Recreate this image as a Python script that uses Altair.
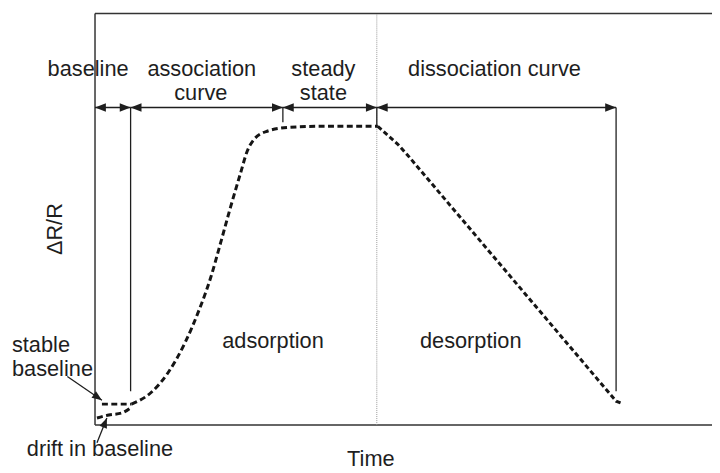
import math
import altair as alt
import pandas as pd

# ---- data (schematic, in plot units: x = time, y = dR/R) ----
X_MAX = 624
Y_MAX = 416

drift_x = [2, 14, 27, 37]
drift_y = [7, 10, 12, 18]

stable_x = [7, 37]
stable_y = [21, 21]

assoc_x = [37, 57, 74, 91, 104, 117, 127, 137, 147, 154, 161, 174, 197, 230, 286]
assoc_y = [21, 33, 53, 83, 113, 149, 184, 220, 254, 277, 289, 297, 301, 302, 302]

dissoc_x = [286, 296, 306, 316, 527, 532]
dissoc_y = [302, 293, 284, 273, 24, 22]

phase_start = [0, 36, 190, 285]
phase_end = [36, 190, 285, 527]
phase_y = 321

marker_x = [36, 190, 285, 527]
marker_y1 = [34, 306, 302, 34]

divider_x = 285

row1_text = ["baseline", "association", "steady", "dissociation curve"]
row1_x = [-7, 108, 231, 404]
row1_y = 353
row2_text = ["curve", "state"]
row2_x = [107, 231]
row2_y = 329

mid_text = ["adsorption", "desorption"]
mid_x = [180, 380]
mid_y = 78

left_text = ["stable", "baseline", "drift in baseline"]
left_x = [-84, -84, -69]
left_y = [74, 49, -31]

ann_tail_x = [-28, 2]
ann_tail_y = [49, -18]
ann_tip_x = [7, 12]
ann_tip_y = [25, 7]

FONT = "Liberation Sans"
INK = "#1e1e1e"

# ---- tables ----
def series(name, xs_, ys_):
    return [{"x": a, "y": b, "series": name, "order": i} for i, (a, b) in enumerate(zip(xs_, ys_))]

smooth_df = pd.DataFrame(series("drift", drift_x, drift_y) + series("stable", stable_x, stable_y)
                         + series("assoc", assoc_x, assoc_y))
linear_df = pd.DataFrame(series("dissoc", dissoc_x, dissoc_y))

frame_df = pd.DataFrame({"x": [0, 0, 0], "x2": [X_MAX, X_MAX, 0], "y": [0, Y_MAX, 0], "y2": [0, Y_MAX, Y_MAX]})
span_df = pd.DataFrame({"x": phase_start, "x2": phase_end, "y": [phase_y] * 4})
marker_df = pd.DataFrame({"x": marker_x, "y": marker_y1, "y2": [phase_y] * 4})
divider_df = pd.DataFrame({"x": [divider_x], "y": [0], "y2": [Y_MAX]})
right_tips = pd.DataFrame({"x": phase_end, "y": [phase_y] * 4})
left_tips = pd.DataFrame({"x": phase_start, "y": [phase_y] * 4})

ann_df = pd.DataFrame({"x": ann_tail_x, "y": ann_tail_y, "x2": ann_tip_x, "y2": ann_tip_y})
ann_df["angle"] = [
    (math.degrees(math.atan2(-(y2 - y1), x2 - x1)) + 360) % 360
    for x1, y1, x2, y2 in zip(ann_tail_x, ann_tail_y, ann_tip_x, ann_tip_y)
]
ann_tips = pd.DataFrame({"x": ann_tip_x, "y": ann_tip_y, "angle": ann_df["angle"]})

row1_df = pd.DataFrame({"t": row1_text, "x": row1_x, "y": [row1_y] * 4})
row2_df = pd.DataFrame({"t": row2_text, "x": row2_x, "y": [row2_y] * 2})
mid_df = pd.DataFrame({"t": mid_text, "x": mid_x, "y": [mid_y] * 2})
left_df = pd.DataFrame({"t": left_text, "x": left_x, "y": left_y})
ylab_df = pd.DataFrame({"t": ["\u0394R/R"], "x": [-40], "y": [198]})
xlab_df = pd.DataFrame({"t": ["Time"], "x": [279], "y": [-42]})

xs = alt.Scale(domain=[0, X_MAX], nice=False, zero=False)
ys = alt.Scale(domain=[0, Y_MAX], nice=False, zero=False)
X = alt.X("x:Q", scale=xs, axis=None)
Y = alt.Y("y:Q", scale=ys, axis=None)

RIGHT_HEAD = "M0,0 L-2,-0.8 L-2,0.8 Z"
LEFT_HEAD = "M0,0 L2,-0.8 L2,0.8 Z"

frame = alt.Chart(frame_df).mark_rule(color="#333333", strokeWidth=1.5).encode(x=X, x2="x2:Q", y=Y, y2="y2:Q")
divider = alt.Chart(divider_df).mark_rule(color="#9a9a9a", strokeWidth=1, strokeDash=[1, 1]).encode(x=X, y=Y, y2="y2:Q")
markers = alt.Chart(marker_df).mark_rule(color=INK, strokeWidth=1.3).encode(x=X, y=Y, y2="y2:Q")
spans = alt.Chart(span_df).mark_rule(color=INK, strokeWidth=1.3).encode(x=X, x2="x2:Q", y=Y)
rheads = alt.Chart(right_tips).mark_point(shape=RIGHT_HEAD, size=121, filled=True, color=INK, opacity=1).encode(x=X, y=Y)
lheads = alt.Chart(left_tips).mark_point(shape=LEFT_HEAD, size=121, filled=True, color=INK, opacity=1).encode(x=X, y=Y)

curve_smooth = alt.Chart(smooth_df).mark_line(
    color="#151515", strokeWidth=3, strokeDash=[6, 3.5], interpolate="monotone"
).encode(x=X, y=Y, detail="series:N", order="order:Q")
curve_linear = alt.Chart(linear_df).mark_line(
    color="#151515", strokeWidth=3, strokeDash=[5, 3], interpolate="linear"
).encode(x=X, y=Y, detail="series:N", order="order:Q")

ann_lines = alt.Chart(ann_df).mark_rule(color=INK, strokeWidth=1.3).encode(x=X, y=Y, x2="x2:Q", y2="y2:Q")
ann_heads = alt.Chart(ann_tips).mark_point(shape=RIGHT_HEAD, size=100, filled=True, color=INK, opacity=1).encode(
    x=X, y=Y, angle=alt.Angle("angle:Q", scale=None)
)

def txt(df, align="center", angle=0, baseline="alphabetic"):
    kw = dict(font=FONT, fontSize=22, color=INK, align=align, baseline=baseline)
    if angle:
        kw["angle"] = angle
    return alt.Chart(df).mark_text(**kw).encode(x=X, y=Y, text="t:N")

chart = alt.layer(
    frame, divider, markers, spans, rheads, lheads, curve_smooth, curve_linear, ann_lines, ann_heads,
    txt(row1_df), txt(row2_df), txt(mid_df), txt(left_df, align="left"),
    txt(ylab_df, angle=270, baseline="middle"), txt(xlab_df),
).properties(
    width=X_MAX, height=Y_MAX,
    padding={"left": 88, "top": 3, "right": 0, "bottom": 45},
    autosize="none",
).configure_view(stroke=None)

chart.save("out.html", embed_options={"renderer": "svg", "actions": False})
